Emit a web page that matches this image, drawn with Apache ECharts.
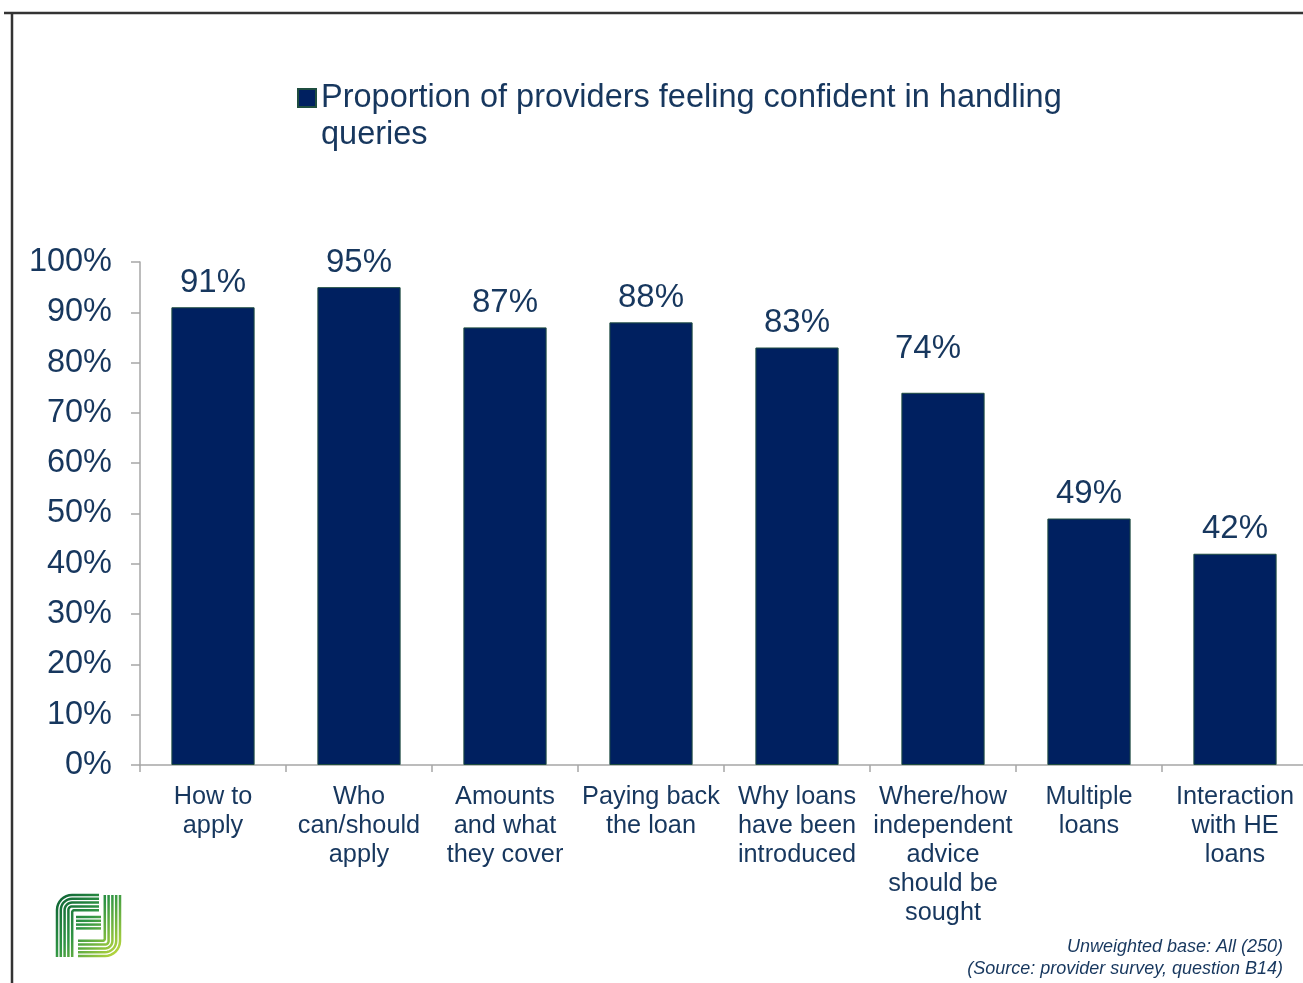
<!DOCTYPE html>
<html>
<head>
<meta charset="utf-8">
<title>Provider confidence in handling queries</title>
<script src="https://cdn.jsdelivr.net/npm/echarts@6/dist/echarts.min.js"></script>
<style>
  html, body { margin: 0; padding: 0; background: #ffffff; }
  #chart { width: 1303px; height: 983px; }
</style>
</head>
<body>
<div id="chart"></div>
<script>
// Query topics (line breaks as shown under each bar)
const categories = [
  'How to\napply',
  'Who\ncan/should\napply',
  'Amounts\nand what\nthey cover',
  'Paying back\nthe loan',
  'Why loans\nhave been\nintroduced',
  'Where/how\nindependent\nadvice\nshould be\nsought',
  'Multiple\nloans',
  'Interaction\nwith HE\nloans'
];

// Share of providers feeling confident, in percent
const confidentPct = [91, 95, 87, 88, 83, 74, 49, 42];

const seriesName = 'Proportion of providers feeling confident in handling queries';

// Y-axis tick values (percent)
const yTicks = [0, 10, 20, 30, 40, 50, 60, 70, 80, 90, 100];

const footnoteLines = [
  'Unweighted base: All (250)',
  '(Source: provider survey, question B14)'
];

const TEXT = '#17375E';
const BAR = '#002060';
const AXIS = '#A6A6A6';
const FONT = '"Liberation Sans", Arial, sans-serif';

const chart = echarts.init(document.getElementById('chart'), null, { renderer: 'canvas' });

// Quarter-circle points for a rounded corner
function corner(cx, cy, r, a0, a1) {
  const pts = [];
  for (let k = 0; k <= 8; k++) {
    const a = a0 + (a1 - a0) * k / 8;
    pts.push([cx + r * Math.cos(a), cy + r * Math.sin(a)]);
  }
  return pts;
}

// Striped logo in the lower-left corner
function logoShapes() {
  const out = [];
  const grad = {
    type: 'linear', global: true,
    x: 55, y: 893, x2: 122, y2: 958,
    colorStops: [
      { offset: 0, color: '#0b5e34' },
      { offset: 0.45, color: '#2f9444' },
      { offset: 1, color: '#cbe03c' }
    ]
  };
  const stroke = { fill: null, stroke: grad, lineWidth: 2.5 };
  for (let i = 0; i < 5; i++) {
    const d = i * 3.8;
    const r = Math.max(15 - d, 2);
    // "F" stripes: up the left side, round the top-left corner, across the top
    const xl = 57 + d, yt = 895 + d;
    out.push({
      type: 'polyline',
      shape: { points: [[xl, 957]].concat(corner(xl + r, yt + r, r, Math.PI, 1.5 * Math.PI), [[99, yt]]) },
      style: stroke
    });
    // "J" stripes: down the right side, round the bottom-right corner, across the bottom
    const xr = 120 - d, yb = 956 - d;
    out.push({
      type: 'polyline',
      shape: { points: [[xr, 895]].concat(corner(xr - r, yb - r, r, 0, 0.5 * Math.PI), [[78, yb]]) },
      style: stroke
    });
  }
  // Central bar of the mark
  for (let i = 0; i < 4; i++) {
    out.push({
      type: 'line',
      shape: { x1: 76, y1: 917 + i * 3.8, x2: 101, y2: 917 + i * 3.8 },
      style: { stroke: grad, lineWidth: 2.5 }
    });
  }
  return out;
}

const option = {
  backgroundColor: '#ffffff',
  animation: false,
  textStyle: { fontFamily: FONT, color: TEXT },
  legend: {
    left: 292,
    top: 75,
    itemWidth: 18,
    itemHeight: 56,
    itemGap: 0,
    selectedMode: false,
    // square marker anchored to the first line of a two-line label
    icon: 'path://M0,0H18V18H0Z M0,56H0.001',
    data: [seriesName],
    formatter: () => 'Proportion of providers feeling confident in handling\nqueries',
    textStyle: {
      fontFamily: FONT,
      fontSize: 32.5,
      color: TEXT,
      lineHeight: 37
    }
  },
  grid: {
    left: 140,
    top: 262,
    width: 1168,
    height: 503,
    containLabel: false,
    outerBoundsMode: 'none'
  },
  xAxis: {
    type: 'category',
    data: categories,
    axisLine: { show: true, lineStyle: { color: AXIS, width: 1.5 } },
    axisTick: { show: true, length: 7, alignWithLabel: false, lineStyle: { color: AXIS, width: 1.5 } },
    axisLabel: {
      interval: 0,
      margin: 18,
      fontFamily: FONT,
      fontSize: 25.3,
      lineHeight: 29,
      color: TEXT,
      align: 'center',
      verticalAlign: 'top'
    },
    splitLine: { show: false }
  },
  yAxis: {
    type: 'value',
    min: yTicks[0],
    max: yTicks[yTicks.length - 1],
    interval: yTicks[1] - yTicks[0],
    axisLine: { show: true, lineStyle: { color: AXIS, width: 1.5 } },
    axisTick: { show: true, length: 9, lineStyle: { color: AXIS, width: 1.5 } },
    axisLabel: {
      margin: 28,
      fontFamily: FONT,
      fontSize: 32.5,
      color: TEXT,
      formatter: v => v + '%'
    },
    splitLine: { show: false }
  },
  series: [{
    name: seriesName,
    type: 'bar',
    barCategoryGap: '43%',
    itemStyle: { color: BAR, borderColor: '#1f4d40', borderWidth: 1 },
    label: {
      show: true,
      position: 'top',
      distance: 8,
      fontFamily: FONT,
      fontSize: 33,
      color: TEXT,
      formatter: p => p.value + '%'
    },
    // The 74% label sits a little up and to the left of its bar
    data: confidentPct.map((v, i) => i === 5
      ? { value: v, label: { offset: [-15, -19] } }
      : v)
  }],
  graphic: [
    // Slide frame: top and left rules
    { type: 'line', shape: { x1: 4, y1: 13, x2: 1303, y2: 13 }, style: { stroke: '#333333', lineWidth: 2.5 } },
    { type: 'line', shape: { x1: 12, y1: 13, x2: 12, y2: 983 }, style: { stroke: '#333333', lineWidth: 2.5 } },
    ...logoShapes(),
    {
      type: 'text',
      x: 1283,
      y: 936,
      style: {
        text: footnoteLines.join('\n'),
        fontFamily: FONT,
        fontSize: 18,
        fontStyle: 'italic',
        lineHeight: 22,
        fill: TEXT,
        align: 'right'
      }
    }
  ]
};

chart.setOption(option);
</script>
</body>
</html>
